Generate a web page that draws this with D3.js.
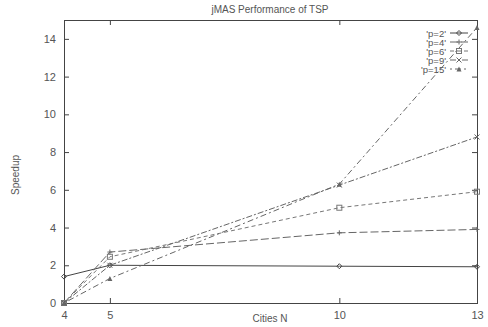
<!DOCTYPE html>
<html>
<head>
<meta charset="utf-8">
<script src="https://cdn.jsdelivr.net/npm/d3@7"></script>
<style>
  body { margin: 0; background: #fff; }
  text { font-family: "Liberation Sans", Arial, sans-serif; fill: #555; }
</style>
</head>
<body>
<div id="chart"></div>
<script>
const cities = [4, 5, 10, 13];
const seriesNames = ["'p=2'", "'p=4'", "'p=6'", "'p=9'", "'p=15'"];
const p2 = [1.4, 2.0, 1.95, 1.92];
const p4 = [0, 2.7, 3.72, 3.9];
const p6 = [0, 2.45, 5.05, 5.9];
const p9 = [0, 2.0, 6.25, 8.8];
const p15 = [0, 1.3, 6.3, 14.6];
const yTicks = [0, 2, 4, 6, 8, 10, 12, 14];

const allSeries = [p2, p4, p6, p9, p15];
const styles = [
  { color: '#444', dash: null, marker: 'diamond' },
  { color: '#666', dash: '8,3', marker: 'plus' },
  { color: '#777', dash: '4,3', marker: 'square' },
  { color: '#666', dash: '6,2,2,2', marker: 'cross' },
  { color: '#666', dash: '2,3,6,3', marker: 'triangle' }
];

const W = 488, H = 327;
const margin = { top: 20, right: 11, bottom: 24, left: 64 };
const width = W - margin.left - margin.right;
const height = H - margin.top - margin.bottom;

const svg = d3.select('#chart').append('svg')
  .attr('width', W).attr('height', H);
const g = svg.append('g')
  .attr('transform', 'translate(' + margin.left + ',' + margin.top + ')');

const x = d3.scaleLinear().domain([4, 13]).range([0, width]);
const y = d3.scaleLinear().domain([0, 15]).range([height, 0]);

// frame
g.append('rect').attr('width', width).attr('height', height)
  .attr('fill', 'none').attr('stroke', '#444').attr('stroke-width', 1)
  .attr('shape-rendering', 'crispEdges');

// axes (ticks mirrored on opposite sides)
const axisStyle = sel => {
  sel.select('.domain').remove();
  sel.selectAll('line').attr('stroke', '#444');
  sel.selectAll('text').attr('font-size', 11).attr('fill', '#555')
    .style('font-family', '"Liberation Sans", Arial, sans-serif');
};
g.append('g').attr('transform', 'translate(0,' + height + ')')
  .call(d3.axisBottom(x).tickValues(cities).tickFormat(d3.format('d')).tickSize(-5).tickPadding(8))
  .call(axisStyle);
g.append('g')
  .call(d3.axisTop(x).tickValues(cities).tickFormat('').tickSize(-5))
  .call(axisStyle);
g.append('g')
  .call(d3.axisLeft(y).tickValues(yTicks).tickSize(-5).tickPadding(8))
  .call(axisStyle);
g.append('g').attr('transform', 'translate(' + width + ',0)')
  .call(d3.axisRight(y).tickValues(yTicks).tickFormat('').tickSize(-5))
  .call(axisStyle);

function marker(sel, type, color) {
  const s = 2.5;
  if (type === 'diamond') {
    sel.append('path').attr('d', `M0,${-s}L${s},0L0,${s}L${-s},0Z`)
      .attr('fill', 'none').attr('stroke', color);
  } else if (type === 'plus') {
    sel.append('path').attr('d', `M${-s},0H${s}M0,${-s}V${s}`).attr('stroke', color);
  } else if (type === 'square') {
    sel.append('rect').attr('x', -s).attr('y', -s).attr('width', 2 * s).attr('height', 2 * s)
      .attr('fill', 'none').attr('stroke', color);
  } else if (type === 'cross') {
    sel.append('path').attr('d', `M${-s},${-s}L${s},${s}M${-s},${s}L${s},${-s}`).attr('stroke', color);
  } else {
    sel.append('path').attr('d', `M0,${-s}L${s},${s}L${-s},${s}Z`).attr('fill', color);
  }
}

const line = d3.line().x((d, i) => x(cities[i])).y(d => y(d));

allSeries.forEach((vals, k) => {
  const st = styles[k];
  g.append('path').datum(vals)
    .attr('d', line)
    .attr('fill', 'none')
    .attr('stroke', st.color)
    .attr('stroke-width', 1)
    .attr('stroke-dasharray', st.dash);
  vals.forEach((v, i) => {
    const m = g.append('g').attr('transform', 'translate(' + x(cities[i]) + ',' + y(v) + ')');
    marker(m, st.marker, st.color);
  });
});

// legend
const legend = svg.append('g');
seriesNames.forEach((name, k) => {
  const st = styles[k];
  const ly = 33 + k * 9;
  legend.append('text').attr('x', 446).attr('y', ly + 3.5)
    .attr('text-anchor', 'end').attr('font-size', 9.5).text(name);
  legend.append('line').attr('x1', 450).attr('x2', 468).attr('y1', ly).attr('y2', ly)
    .attr('stroke', st.color).attr('stroke-dasharray', st.dash);
  marker(legend.append('g').attr('transform', 'translate(459,' + ly + ')'), st.marker, st.color);
});

// titles
svg.append('text').attr('x', 270).attr('y', 13).attr('text-anchor', 'middle')
  .attr('font-size', 10).text('jMAS Performance of TSP');
svg.append('text').attr('x', 270).attr('y', 322).attr('text-anchor', 'middle')
  .attr('font-size', 10).text('Cities N');
svg.append('text').attr('transform', 'translate(19,175) rotate(-90)')
  .attr('text-anchor', 'middle').attr('font-size', 10).text('Speedup');
</script>
</body>
</html>
